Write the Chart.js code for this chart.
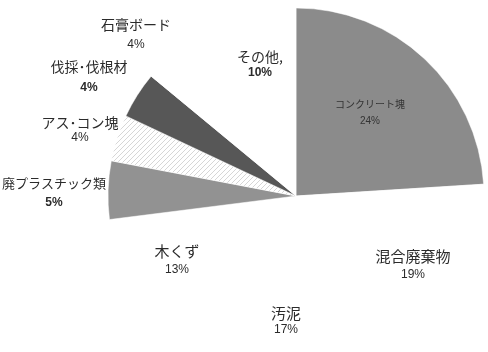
<!DOCTYPE html>
<html>
<head>
<meta charset="utf-8">
<script src="https://cdn.jsdelivr.net/npm/chart.js@4"></script>
<style>
  html, body { margin: 0; padding: 0; background: #fff; }
  #wrap { width: 488px; height: 352px; overflow: hidden; position: relative; }
  canvas { position: absolute; left: 0; top: 0; }
</style>
</head>
<body>
<div id="wrap"><canvas id="chart" width="488" height="384"></canvas></div>
<script>
// categories, clockwise from the top
const categories = [
  "コンクリート塊", "混合廃棄物", "汚泥", "木くず", "廃プラスチック類",
  "アス･コン塊", "伐採･伐根材", "石膏ボード", "その他,"
];
const shares = [24, 19, 17, 13, 5, 4, 4, 4, 10];
const percentLabels = ["24%", "19%", "17%", "13%", "5%", "4%", "4%", "4%", "10%"];

// label anchors (x, name line y, percent line y)
const labelPos = [
  [370, 104, 121], [413, 256, 275], [286, 313, 330], [177, 251, 270],
  [54, 183, 203], [80, 123, 138], [89, 67, 88], [136, 25, 45], [260, 57, 73]
];
const labelFont = [10, 15, 15, 15, 13, 14, 14, 14, 14];
const pctBold = [false, false, false, false, true, false, true, false, true];

function hatch() {
  const c = document.createElement("canvas");
  c.width = 5; c.height = 5;
  const g = c.getContext("2d");
  g.fillStyle = "#fff";
  g.fillRect(0, 0, 5, 5);
  g.strokeStyle = "#d6d6d6";
  g.lineWidth = 1;
  g.beginPath();
  g.moveTo(-1, 6); g.lineTo(6, -1);
  g.moveTo(-1, 1); g.lineTo(1, -1);
  g.moveTo(4, 6); g.lineTo(6, 4);
  g.stroke();
  return document.getElementById("chart").getContext("2d").createPattern(c, "repeat");
}

const sliceColors = [
  "#8b8b8b", "#ffffff", "#ffffff", "#ffffff", "#929292",
  hatch(), "#575757", "#ffffff", "#ffffff"
];

const labelPlugin = {
  id: "labels",
  afterDraw(chart) {
    const ctx = chart.ctx;
    ctx.save();
    ctx.textAlign = "center";
    ctx.textBaseline = "middle";
    categories.forEach((name, i) => {
      const [x, y1, y2] = labelPos[i];
      ctx.fillStyle = i === 0 ? "#333" : "#2b2b2b";
      ctx.font = `${labelFont[i]}px "Noto Sans CJK JP"`;
      ctx.fillText(name, x, y1);
      const ps = i === 0 ? 10 : 12;
      ctx.font = `${pctBold[i] ? "bold " : ""}${ps}px "Liberation Sans"`;
      ctx.fillText(percentLabels[i], x, y2);
    });
    ctx.restore();
  }
};

new Chart(document.getElementById("chart"), {
  type: "pie",
  data: {
    labels: categories,
    datasets: [{
      data: shares,
      backgroundColor: sliceColors,
      borderColor: "#ffffff",
      borderWidth: 0.5,
      hoverOffset: 0,
      radius: 188
    }]
  },
  options: {
    responsive: false,
    animation: false,
    devicePixelRatio: 1,
    layout: { padding: { left: 108, right: 4, top: 8, bottom: 0 } },
    plugins: { legend: { display: false }, tooltip: { enabled: false } }
  },
  plugins: [labelPlugin]
});
</script>
</body>
</html>
